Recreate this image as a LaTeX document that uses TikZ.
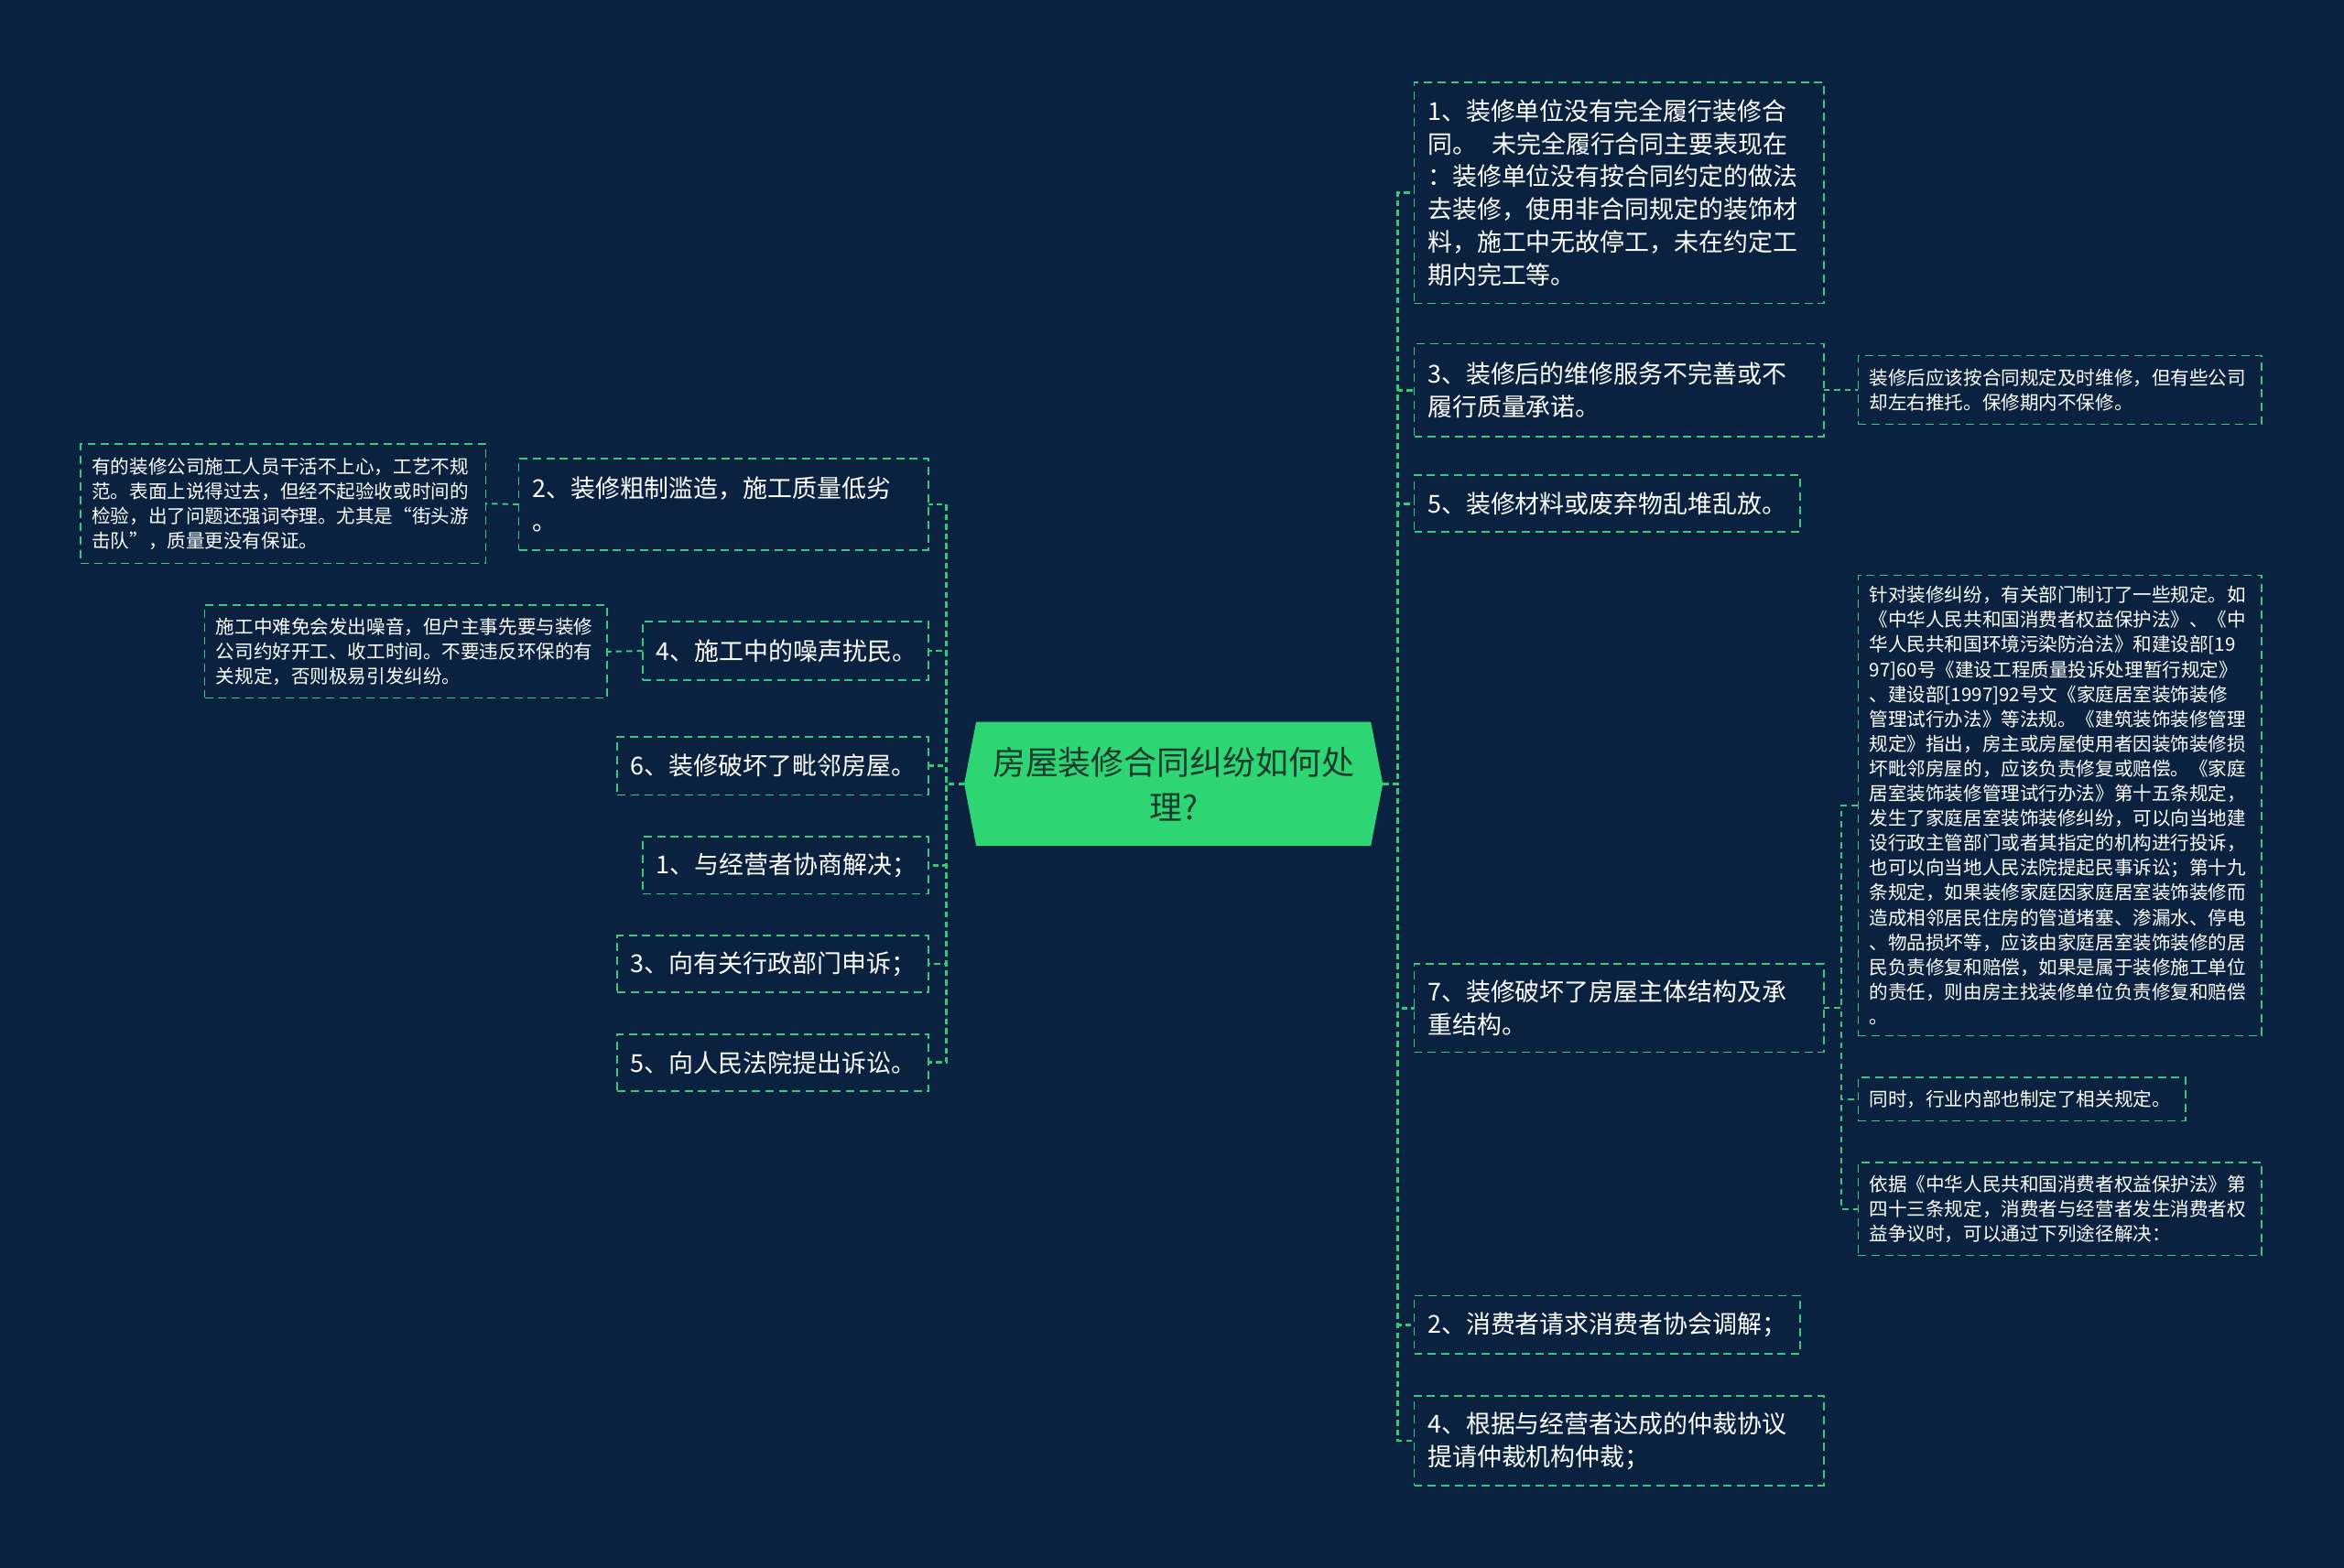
\documentclass[tikz,border=0pt]{standalone}
\usepackage{fontspec}
\setmainfont{Noto Sans CJK SC}
\usetikzlibrary{backgrounds}
\definecolor{bg}{HTML}{0A2240}
\definecolor{lg}{HTML}{3BC87C}
\definecolor{tg}{HTML}{2ECF74}
\definecolor{cfill}{HTML}{2ED573}
\definecolor{ctext}{HTML}{1C3A30}
\begin{document}
\begin{tikzpicture}[x=1pt,y=-1pt,
 box/.style={draw=lg, line width=1pt, dash pattern=on 5.5pt off 3.5pt, anchor=north west,
   inner xsep=9pt, inner ysep=0pt, align=left, text=white, outer sep=0pt,
   font=\fontsize{16.5}{22}\selectfont},
 sbox/.style={box, inner xsep=7.5pt, font=\fontsize{12.6}{16.6}\selectfont},
 bx/.style 2 args={text width=#1pt, minimum height=#2pt},
 trunk/.style={draw=tg, line width=1.7pt, dash pattern=on 4pt off 2.5pt},
 link/.style={draw=lg, line width=1.2pt, dash pattern=on 4pt off 3pt},
]
\useasboundingbox (0,0) rectangle (1568,1049);

% central node
\node[font=\fontsize{22}{30}\selectfont, text=ctext, align=center, minimum width=280pt,
  minimum height=83pt, inner sep=0pt, outer sep=0pt] (c) at (785,524.5) {房屋装修合同纠纷如何处\\理?};

% right side
\node[box, bx={256}{148}] (r1) at (946,55) {1、装修单位没有完全履行装修合\\同。\hspace{0.6em}未完全履行合同主要表现在\\：装修单位没有按合同约定的做法\\去装修，使用非合同规定的装饰材\\料，施工中无故停工，未在约定工\\期内完工等。};
\node[box, bx={256}{62}] (r3) at (946,230) {3、装修后的维修服务不完善或不\\履行质量承诺。};
\node[sbox, bx={255}{46}] (r3c) at (1243,238) {装修后应该按合同规定及时维修，但有些公司\\却左右推托。保修期内不保修。};
\node[box, bx={240}{38}] (r5) at (946,318) {5、装修材料或废弃物乱堆乱放。};
\node[box, bx={256}{59}] (r7) at (946,645) {7、装修破坏了房屋主体结构及承\\重结构。};
\node[sbox, bx={255}{308}] (c1) at (1243,385) {针对装修纠纷，有关部门制订了一些规定。如\\《中华人民共和国消费者权益保护法》、《中\\华人民共和国环境污染防治法》和建设部[19\\97]60号《建设工程质量投诉处理暂行规定》\\、建设部[1997]92号文《家庭居室装饰装修\\管理试行办法》等法规。《建筑装饰装修管理\\规定》指出，房主或房屋使用者因装饰装修损\\坏毗邻房屋的，应该负责修复或赔偿。《家庭\\居室装饰装修管理试行办法》第十五条规定，\\发生了家庭居室装饰装修纠纷，可以向当地建\\设行政主管部门或者其指定的机构进行投诉，\\也可以向当地人民法院提起民事诉讼；第十九\\条规定，如果装修家庭因家庭居室装饰装修而\\造成相邻居民住房的管道堵塞、渗漏水、停电\\、物品损坏等，应该由家庭居室装饰装修的居\\民负责修复和赔偿，如果是属于装修施工单位\\的责任，则由房主找装修单位负责修复和赔偿\\。};
\node[sbox, bx={204}{29}] (c2) at (1243,721) {同时，行业内部也制定了相关规定。};
\node[sbox, bx={255}{62}] (c3) at (1243,778) {依据《中华人民共和国消费者权益保护法》第\\四十三条规定，消费者与经营者发生消费者权\\益争议时，可以通过下列途径解决：};
\node[box, bx={240}{39}] (r2b) at (946,867) {2、消费者请求消费者协会调解；};
\node[box, bx={256}{60}] (r4b) at (946,934) {4、根据与经营者达成的仲裁协议\\提请仲裁机构仲裁；};

% left side
\node[box, bx={256}{61}] (l2) at (347,307) {2、装修粗制滥造，施工质量低劣\\。};
\node[sbox, bx={256}{80}] (l2c) at (54,297) {有的装修公司施工人员干活不上心，工艺不规\\范。表面上说得过去，但经不起验收或时间的\\检验，出了问题还强词夺理。尤其是“街头游\\击队”，质量更没有保证。};
\node[box, bx={173}{39}] (l4) at (430,416) {4、施工中的噪声扰民。};
\node[sbox, bx={254}{62}] (l4c) at (137,405) {施工中难免会发出噪音，但户主事先要与装修\\公司约好开工、收工时间。不要违反环保的有\\关规定，否则极易引发纠纷。};
\node[box, bx={190}{39}] (l6) at (413,493) {6、装修破坏了毗邻房屋。};
\node[box, bx={173}{38}] (l1) at (430,560) {1、与经营者协商解决；};
\node[box, bx={190}{38}] (l3) at (413,626) {3、向有关行政部门申诉；};
\node[box, bx={190}{38}] (l5) at (413,692) {5、向人民法院提出诉讼。};

% trunks
\coordinate (rt) at (935,524.5);
\coordinate (lt) at (633,524.5);
\foreach \n in {r1,r3,r5,r7,r2b,r4b}{\draw[trunk] (c.east) -- (rt) |- (\n.west);}
\foreach \n in {l2,l4,l6,l1,l3,l5}{\draw[trunk] (c.west) -- (lt) |- (\n.east);}

% sub links
\draw[link] (r3.east) -- (r3c.west);
\coordinate (st) at (1232,674.5);
\foreach \n in {c1,c2,c3}{\draw[link] (r7.east) -- (st) |- (\n.west);}
\draw[link] (l2.west) -- (l2c.east);
\draw[link] (l4.west) -- (l4c.east);

\begin{scope}[on background layer]
\fill[bg] (0,0) rectangle (1568,1049);
\fill[cfill] ([xshift=8pt]c.north west) -- ([xshift=-8pt]c.north east) -- (c.east)
  -- ([xshift=-8pt]c.south east) -- ([xshift=8pt]c.south west) -- (c.west) -- cycle;
\end{scope}
\end{tikzpicture}
\end{document}
